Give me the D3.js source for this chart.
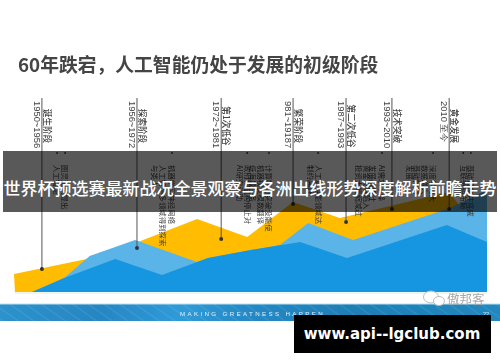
<!DOCTYPE html>
<html>
<head>
<meta charset="utf-8">
<script src="https://cdn.jsdelivr.net/npm/d3@7"></script>
<style>
    html, body { margin: 0; padding: 0; background: #fff; }
    svg { display: block; }
</style>
</head>
<body>
<svg id="chart" width="500" height="362"></svg>
<script>
// timeline position (0-100 across the slide) and development level (0-100)
const yellowT = [0.2, 0, 15.4, 26.2, 38.7, 49.3, 59, 68.9, 92, 93.9, 92];
const yellowV = [0, 9, 16.5, 25, 36.5, 27.5, 45, 37, 50, 44, 0];
const lightT = [3.8, 10.6, 16, 25.6, 38.7, 41, 56.2, 62.2, 71.7, 92.2, 100, 100];
const lightV = [0, 7, 18, 26, 15, 17, 23.5, 34.5, 26, 42, 51, 0];
const darkT = [3.8, 10.6, 21.4, 31.3, 38.7, 41, 50, 60.5, 70.4, 91.5, 100, 100];
const darkV = [0, 7, 16.5, 8.5, 15, 17, 21, 25, 17, 33.5, 25, 0];

const stageYears = ["1950~1956", "1956~1972", "1972~1981", "981~19187", "1987~1993", "1993~2010", "2010 至今"];
const stageNames = ["诞生阶段", "探索阶段", "第1次低谷", "繁荣阶段", "第二次低谷", "技术突破", "黄金发展"];
const stageT = [5.9, 26, 43.8, 59, 70.2, 79.9, 92];
const stageV = [11.5, 22, 26.5, 44, 35, 41.5, 41.5];

const noteTexts = [
    "人工智能", "图灵测试提出",
    "与类人", "人工智能多领域得到探索", "机器学习神经网络",
    "AI研究资助", "政府和机构停止对", "低海量任务", "机器视觉模数翻译",
    "计算能力突破没能使",
    "制约高峰", "人工算性能领域达",
    "投资大幅缩减过", "黄金发展陷入", "发展战略计", "AI需求下降",
    "发展", "基础特别", "数据增大", "深度学习大",
    "互联争相布局", "基础设施并将成"
];
const noteT = [9.1, 10.8, 29.8, 31.5, 33.4, 47.6, 49.3, 50.5, 52.2, 53.9, 62.6, 64.3,
    72.9, 74.6, 75.9, 77.8, 83.7, 85.2, 86.9, 88.6, 95, 96.6];
const noteDotT = [9.1, 10.8, 33.4, 49.3, 53.9, 64.3, 77.8, 88.6, 95, 96.6];

const titleText = "60年跌宕，人工智能仍处于发展的初级阶段";
const bandText = "世界杯预选赛最新战况全景观察与各洲出线形势深度解析前瞻走势";
const footerText = "MAKING GREATNESS HAPPEN";
const pageNumber = "22";
const wechatName = "傲邦客";
const siteText = "www.api--lgclub.com";

const svg = d3.select("#chart");
const cjk = "'Noto Sans CJK SC', sans-serif";

const x = d3.scaleLinear().domain([0, 100]).range([14, 487]);
const y = d3.scaleLinear().domain([0, 100]).range([292, 92]);

const defs = svg.append("defs");
defs.append("filter").attr("id", "soft")
    .attr("x", "-5%").attr("y", "-5%").attr("width", "110%").attr("height", "110%")
    .append("feGaussianBlur").attr("stdDeviation", 0.35);

const stripGrad = defs.append("linearGradient").attr("id", "stripGrad");
[[0, "#2d92cc"], [0.2, "#2786c2"], [0.36, "#2f9bd8"], [0.5, "#2588c4"], [0.7, "#1f7fb6"], [1, "#2088bf"]]
    .forEach(s => {
        stripGrad.append("stop").attr("offset", s[0]).attr("stop-color", s[1]);
    });

const texture = defs.append("pattern").attr("id", "stripTexture")
    .attr("width", 9).attr("height", 9)
    .attr("patternUnits", "userSpaceOnUse")
    .attr("patternTransform", "rotate(35)");
texture.append("line")
    .attr("x1", 0).attr("y1", 0).attr("x2", 9).attr("y2", 0)
    .attr("stroke", "#fff").attr("stroke-opacity", 0.1).attr("stroke-width", 2);

// everything from the slide photo is slightly soft
const photo = svg.append("g").attr("filter", "url(#soft)");

photo.append("text")
    .attr("x", 18).attr("y", 72)
    .attr("font-family", cjk).attr("font-size", 18.8).attr("font-weight", 700)
    .attr("fill", "#444")
    .text(titleText);

const area = d3.line().x(d => x(d[0])).y(d => y(d[1]));
[[yellowT, yellowV, "#ffbc00"], [lightT, lightV, "#5ab4e8"], [darkT, darkV, "#1796e0"]].forEach(s => {
    photo.append("path")
        .attr("d", area(d3.zip(s[0], s[1])) + "Z")
        .attr("fill", s[2]);
});

photo.append("line")
    .attr("x1", 15).attr("x2", 487).attr("y1", 293).attr("y2", 293)
    .attr("stroke", "#d9ecd9").attr("stroke-width", 1);

// stage lines with their dots and rotated labels
const stage = photo.selectAll(".stage")
    .data(stageT)
    .enter()
    .append("g")
    .attr("class", "stage");

stage.append("line")
    .attr("x1", d => x(d)).attr("x2", d => x(d))
    .attr("y1", 98)
    .attr("y2", (d, i) => y(stageV[i]))
    .attr("stroke", "#555").attr("stroke-width", 1);

stage.append("circle")
    .attr("cx", d => x(d))
    .attr("cy", (d, i) => y(stageV[i]))
    .attr("r", 2)
    .attr("fill", "#333");

stage.append("text")
    .attr("transform", d => `translate(${x(d) - 5},101) rotate(90)`)
    .attr("dy", "0.35em")
    .attr("font-family", "'Liberation Sans', sans-serif").attr("font-size", 9.4)
    .attr("fill", "#444")
    .text((d, i) => stageYears[i]);

stage.append("text")
    .attr("transform", d => `translate(${x(d) + 5},126) rotate(90)`)
    .attr("dy", "0.35em")
    .attr("text-anchor", "middle")
    .attr("font-family", cjk).attr("font-size", 8.6).attr("font-weight", 500)
    .attr("fill", "#444")
    .text((d, i) => stageNames[i]);

photo.selectAll(".note")
    .data(noteT)
    .enter()
    .append("text")
    .attr("class", "note")
    .attr("transform", d => `translate(${x(d)},165) rotate(90)`)
    .attr("dy", "0.35em")
    .attr("font-family", cjk).attr("font-size", 7.4)
    .attr("fill", "#444")
    .text((d, i) => noteTexts[i]);

photo.selectAll(".noteDot")
    .data(noteDotT)
    .enter()
    .append("circle")
    .attr("class", "noteDot")
    .attr("cx", d => x(d)).attr("cy", 153)
    .attr("r", 0.9)
    .attr("fill", "#333");

// footer strip
photo.append("rect")
    .attr("x", 0).attr("y", 304).attr("width", 500).attr("height", 17)
    .attr("fill", "url(#stripGrad)");
photo.append("rect")
    .attr("x", 0).attr("y", 304).attr("width", 500).attr("height", 17)
    .attr("fill", "url(#stripTexture)");
photo.append("line")
    .attr("x1", 0).attr("x2", 500).attr("y1", 304).attr("y2", 304)
    .attr("stroke", "#b7dfef").attr("stroke-width", 1);

photo.append("text")
    .attr("x", 180).attr("y", 315.5)
    .attr("font-family", "'Liberation Sans', sans-serif").attr("font-size", 6.2)
    .attr("letter-spacing", 2.35)
    .attr("fill", "#e2f1f9")
    .text(footerText);

photo.append("text")
    .attr("x", 483).attr("y", 315.5)
    .attr("font-family", "'Liberation Sans', sans-serif").attr("font-size", 5.5)
    .attr("fill", "#e3f2fa")
    .text(pageNumber);

// wechat mark
[[431, 297, 7.5, 6], [439, 301, 5.5, 4.5]].forEach(b => {
    photo.append("ellipse")
        .attr("cx", b[0]).attr("cy", b[1]).attr("rx", b[2]).attr("ry", b[3])
        .attr("fill", "#fff").attr("stroke", "#bbb").attr("stroke-width", 1);
});
photo.append("text")
    .attr("x", 447).attr("y", 304)
    .attr("font-family", cjk).attr("font-size", 12.5)
    .attr("fill", "#a8a8a8")
    .text(wechatName);

// overlays stay sharp
svg.append("rect")
    .attr("x", 3).attr("y", 151).attr("width", 494).attr("height", 61)
    .attr("fill", "#000").attr("fill-opacity", 0.65);

svg.append("text")
    .attr("x", 250).attr("y", 187)
    .attr("text-anchor", "middle")
    .attr("dominant-baseline", "central")
    .attr("font-family", cjk).attr("font-size", 17).attr("font-weight", 500)
    .attr("fill", "#fff")
    .text(bandText);

svg.append("rect")
    .attr("x", 294).attr("y", 315).attr("width", 197).attr("height", 38)
    .attr("fill", "#000");

svg.append("text")
    .attr("x", 392).attr("y", 334)
    .attr("text-anchor", "middle")
    .attr("dominant-baseline", "central")
    .attr("font-family", "'DejaVu Sans', sans-serif").attr("font-size", 15).attr("font-weight", 700)
    .attr("fill", "#fff")
    .text(siteText);
</script>
</body>
</html>
